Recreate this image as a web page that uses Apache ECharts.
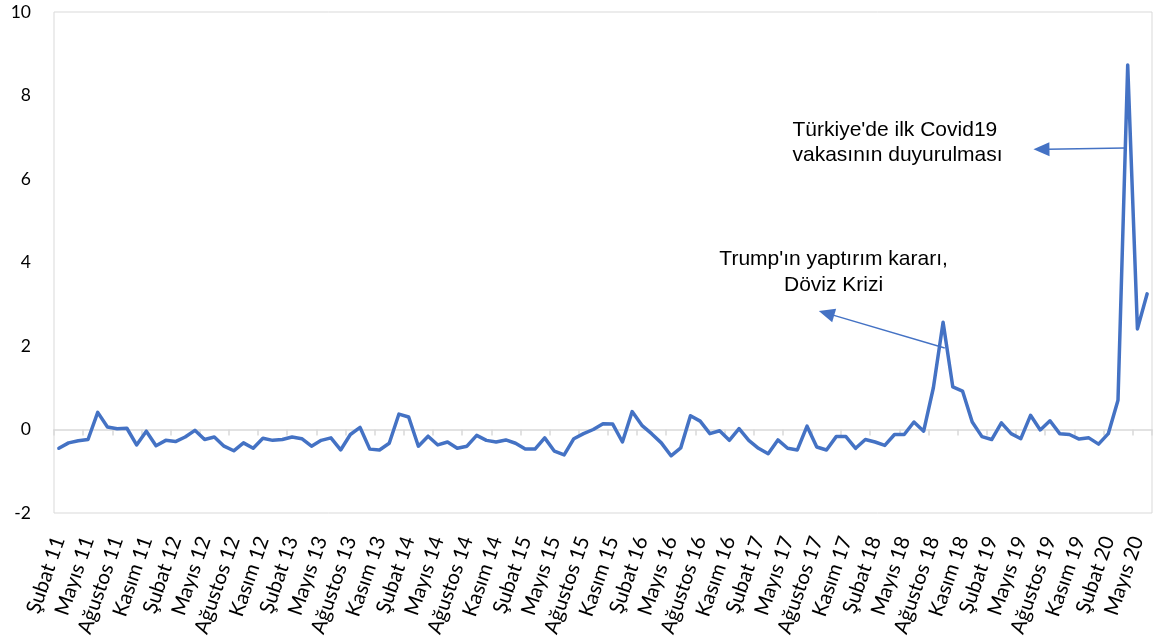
<!DOCTYPE html>
<html>
<head>
<meta charset="utf-8">
<script src="https://cdn.jsdelivr.net/npm/echarts@6/dist/echarts.min.js"></script>
<style>
html,body{margin:0;padding:0;background:#fff;}
#chart{width:1155px;height:643px;}
</style>
</head>
<body>
<div id="chart"></div>
<script>
// Turkish month names (category labels)
const monthNames = ['Ocak','Şubat','Mart','Nisan','Mayıs','Haziran','Temmuz','Ağustos','Eylül','Ekim','Kasım','Aralık'];
const startYear = 2011;
const startMonthIndex = 1; // Şubat 2011

// Monthly values, Şubat 2011 .. Haziran 2020
const values = [
  -0.45, -0.32, -0.27, -0.24, 0.41, 0.06, 0.02, 0.03, -0.37, -0.04,
  -0.39, -0.26, -0.29, -0.18, -0.02, -0.24, -0.18, -0.40, -0.51, -0.32,
  -0.45, -0.21, -0.26, -0.24, -0.18, -0.22, -0.40, -0.26, -0.20, -0.49,
  -0.12, 0.05, -0.47, -0.49, -0.33, 0.37, 0.30, -0.40, -0.16, -0.37,
  -0.30, -0.45, -0.40, -0.14, -0.26, -0.30, -0.25, -0.33, -0.47, -0.47,
  -0.20, -0.52, -0.61, -0.22, -0.10, 0.00, 0.14, 0.13, -0.30, 0.43,
  0.10, -0.10, -0.32, -0.63, -0.44, 0.33, 0.20, -0.10, -0.03, -0.26,
  0.02, -0.26, -0.45, -0.58, -0.25, -0.45, -0.49, 0.08, -0.42, -0.49,
  -0.17, -0.17, -0.45, -0.24, -0.30, -0.38, -0.12, -0.12, 0.18, -0.04,
  1.00, 2.57, 1.02, 0.92, 0.18, -0.17, -0.24, 0.16, -0.10, -0.22,
  0.34, -0.01, 0.21, -0.10, -0.12, -0.23, -0.20, -0.35, -0.10, 0.70,
  8.73, 2.41, 3.25
];

const categories = values.map(function (_, i) {
  const k = startMonthIndex + i;
  const y = startYear + Math.floor(k / 12);
  return monthNames[k % 12] + ' ' + String(y).slice(2);
});

// Value axis ticks
const yMin = -2, yMax = 10, yStep = 2;

// Annotations (positions in data coordinates: category index, value)
const annotations = [
  { lines: ["Türkiye'de ilk Covid19", "vakasının duyurulması"], at: [75.5, 6.87], align: 'left', lineHeight: 25,
    arrowFrom: [109.7, 6.74], arrowTo: [100.3, 6.71] },
  { lines: ["Trump'ın yaptırım kararı,", "Döviz Krizi"], at: [79.73, 3.77], align: 'center', lineHeight: 26,
    arrowFrom: [91.17, 1.95], arrowTo: [78.21, 2.84] }
];

const BLUE = '#4472C4';
const GREY = '#d9d9d9';

const chart = echarts.init(document.getElementById('chart'), null, { renderer: 'canvas' });

chart.setOption({
  animation: false,
  backgroundColor: '#fff',
  grid: {
    left: 54, right: 3, top: 12, bottom: 130,
    show: true, borderColor: GREY, borderWidth: 1, backgroundColor: 'transparent',
    containLabel: false
  },
  xAxis: [
    {
      type: 'category',
      data: categories,
      boundaryGap: true,
      axisLine: { show: true, onZero: true, lineStyle: { color: GREY, width: 1.5 } },
      axisTick: { show: true, interval: 2, length: 6, alignWithLabel: false, lineStyle: { color: GREY, width: 1.5 } },
      axisLabel: { show: false },
      splitLine: { show: false }
    },
    {
      type: 'category',
      data: categories,
      boundaryGap: true,
      position: 'bottom',
      axisLine: { show: false, onZero: false },
      axisTick: { show: false },
      splitLine: { show: false },
      axisLabel: {
        interval: 2, rotate: 71, margin: 24,
        fontFamily: 'Lato', fontSize: 20.5, color: '#000'
      }
    }
  ],
  yAxis: {
    type: 'value',
    min: yMin, max: yMax, interval: yStep,
    axisLine: { show: false },
    axisTick: { show: false },
    splitLine: { show: false },
    axisLabel: { margin: 23, fontFamily: 'Lato', fontSize: 17.5, color: '#000' }
  },
  series: [{
    type: 'line',
    xAxisIndex: 0,
    data: values,
    showSymbol: false,
    symbol: 'none',
    lineStyle: { color: BLUE, width: 3.5, join: 'round', cap: 'round' },
    itemStyle: { color: BLUE },
    z: 3
  }]
});

// Build annotations through the axes' own scales
function px(ix, v) {
  const x0 = chart.convertToPixel({ xAxisIndex: 0 }, 0);
  const x1 = chart.convertToPixel({ xAxisIndex: 0 }, 1);
  const y = chart.convertToPixel({ yAxisIndex: 0 }, v);
  return [x0 + (x1 - x0) * ix, y];
}

const elements = [];
annotations.forEach(function (a) {
  const p = px(a.at[0], a.at[1]);
  elements.push({
    type: 'text',
    z: 10,
    style: {
      text: a.lines.join('\n'),
      x: p[0], y: p[1],
      fontFamily: 'Liberation Sans', fontSize: 21,
      lineHeight: a.lineHeight,
      fill: '#000',
      align: a.align, verticalAlign: 'middle'
    }
  });
  const f = px(a.arrowFrom[0], a.arrowFrom[1]);
  const t = px(a.arrowTo[0], a.arrowTo[1]);
  const dx = t[0] - f[0], dy = t[1] - f[1];
  const len = Math.sqrt(dx * dx + dy * dy);
  const ux = dx / len, uy = dy / len;
  const L = 16, W = 7;
  const bx = t[0] - ux * L, by = t[1] - uy * L;
  elements.push({
    type: 'line', z: 10,
    shape: { x1: f[0], y1: f[1], x2: bx + ux * 2, y2: by + uy * 2 },
    style: { stroke: BLUE, lineWidth: 1.5 }
  });
  elements.push({
    type: 'polygon', z: 10,
    shape: { points: [[t[0], t[1]], [bx - uy * W, by + ux * W], [bx + uy * W, by - ux * W]] },
    style: { fill: BLUE }
  });
});

chart.setOption({ graphic: elements });
</script>
</body>
</html>
